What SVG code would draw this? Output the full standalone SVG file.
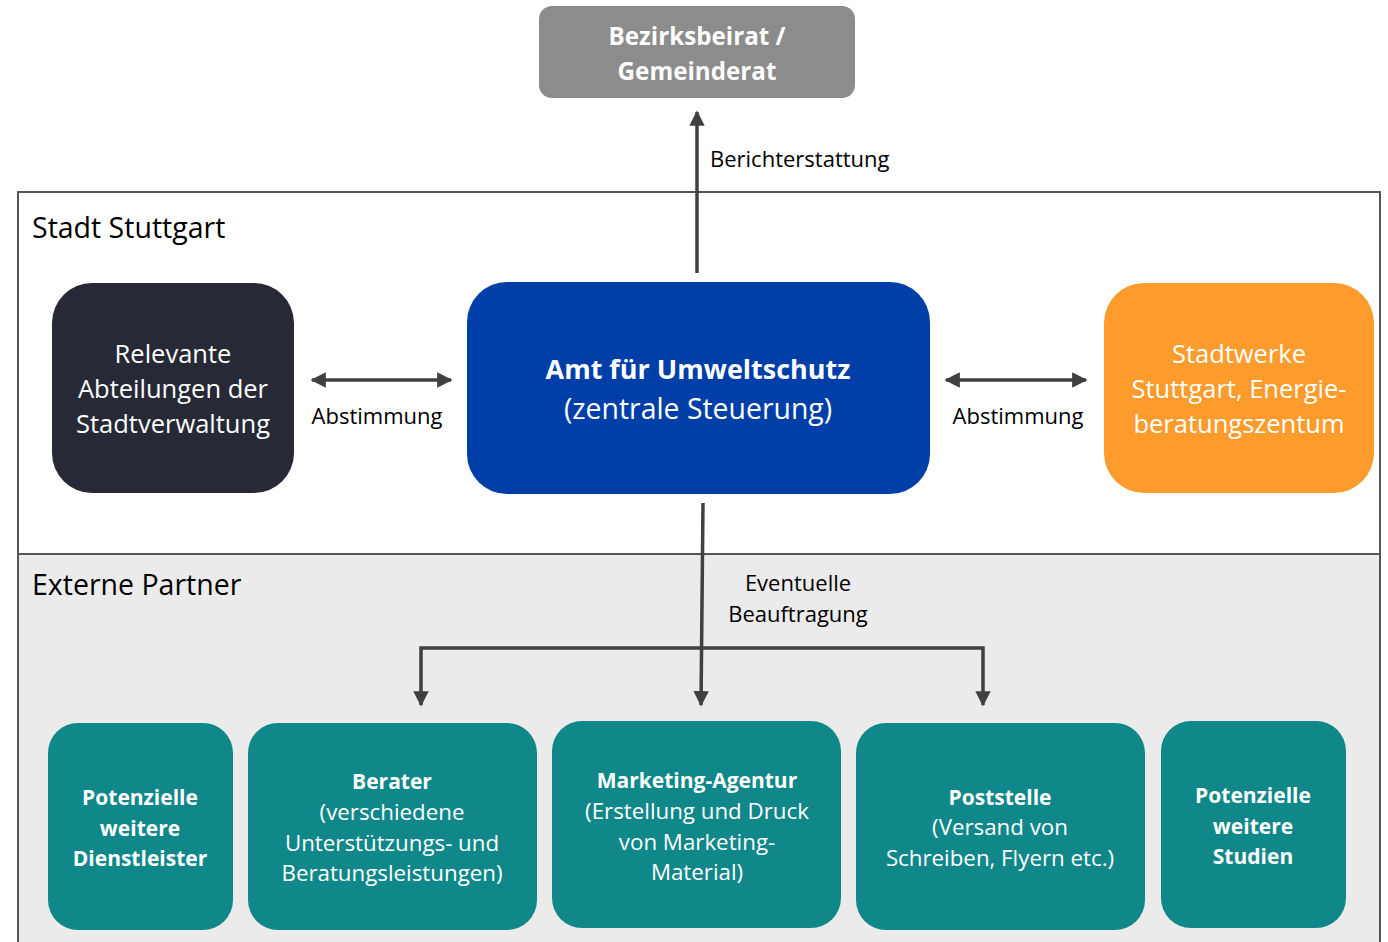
<svg xmlns="http://www.w3.org/2000/svg" width="1388" height="942" viewBox="0 0 1388 942">
<defs>
<style>
text{font-family:"Open Sans","Noto Sans","DejaVu Sans",sans-serif;text-anchor:middle}
.w{fill:#ffffff}
.k{fill:#000000}
.b{font-weight:bold}
.node{font-size:25.5px}
.lab{font-size:22px}
.panel{stroke:#555555;stroke-width:2}
.conn{stroke:#404040;stroke-width:3.5;fill:none}
.teal{fill:#108789}
.tt{font-size:22.3px}
.tb{font-size:21px;font-weight:bold}
.title{font-size:28.5px;text-anchor:start}
</style>
<marker id="ah" viewBox="0 0 10 10" refX="9" refY="5" markerWidth="4.4" markerHeight="4.4" markerUnits="strokeWidth" orient="auto-start-reverse">
<path d="M0,0 L10,5 L0,10 z" fill="#404040"/>
</marker>
</defs>
<rect width="1388" height="942" fill="#ffffff"/>
<g id="panel-stadt">
<rect class="panel" x="18" y="192" width="1362" height="362" fill="#ffffff"/>
<text x="32" y="238" class="k title">Stadt Stuttgart</text>
</g>
<g id="panel-extern">
<rect class="panel" x="18" y="554" width="1362" height="400" fill="#ebebeb"/>
<text x="32" y="595" class="k title">Externe Partner</text>
</g>
<g id="connectors">
<line class="conn" x1="697" y1="273" x2="697" y2="112" marker-end="url(#ah)"/>
<line class="conn" x1="312" y1="380" x2="451" y2="380" marker-start="url(#ah)" marker-end="url(#ah)"/>
<line class="conn" x1="946" y1="380" x2="1086" y2="380" marker-start="url(#ah)" marker-end="url(#ah)"/>
<line class="conn" x1="703" y1="503" x2="701" y2="705" marker-end="url(#ah)"/>
<polyline class="conn" points="421,705 421,648 983,648 983,705" marker-start="url(#ah)" marker-end="url(#ah)"/>
<text x="710" y="167" class="lab k" style="text-anchor:start">Berichterstattung</text>
<text x="377" y="424" class="lab k">Abstimmung</text>
<text x="1018" y="424" class="lab k">Abstimmung</text>
<text x="798" y="591" class="lab k">Eventuelle</text>
<text x="798" y="622" class="lab k">Beauftragung</text>
</g>
<g id="node-bezirksbeirat">
<rect x="539" y="6" width="316" height="92" rx="13" fill="#8c8c8c"/>
<text x="697" y="45" class="w b" style="font-size:24.2px">Bezirksbeirat /</text>
<text x="697" y="80" class="w b" style="font-size:24.2px">Gemeinderat</text>
</g>
<g id="node-abteilungen">
<rect x="52" y="283" width="242" height="210" rx="40" fill="#272a36"/>
<text x="173" y="363" class="w node">Relevante</text>
<text x="173" y="398" class="w node">Abteilungen der</text>
<text x="173" y="433" class="w node">Stadtverwaltung</text>
</g>
<g id="node-amt">
<rect x="467" y="282" width="463" height="212" rx="40" fill="#003fa7"/>
<text x="698" y="379" class="w b" style="font-size:27px">Amt für Umweltschutz</text>
<text x="698" y="419" class="w" style="font-size:28.4px">(zentrale Steuerung)</text>
</g>
<g id="node-stadtwerke">
<rect x="1104" y="283" width="270" height="210" rx="40" fill="#fd9b2c"/>
<text x="1239" y="363" class="w node">Stadtwerke</text>
<text x="1239" y="398" class="w node">Stuttgart, Energie-</text>
<text x="1239" y="433" class="w node">beratungszentum</text>
</g>
<g id="node-dienstleister">
<rect class="teal" x="48" y="723" width="185" height="207" rx="30"/>
<text x="140" y="805" class="w tb">Potenzielle</text>
<text x="140" y="836" class="w tb">weitere</text>
<text x="140" y="866" class="w tb">Dienstleister</text>
</g>
<g id="node-berater">
<rect class="teal" x="248" y="723" width="289" height="207" rx="30"/>
<text x="392" y="789" class="w tb">Berater</text>
<text x="392" y="820" class="w tt">(verschiedene</text>
<text x="392" y="851" class="w tt">Unterstützungs- und</text>
<text x="392" y="881" class="w tt">Beratungsleistungen)</text>
</g>
<g id="node-marketing">
<rect class="teal" x="552" y="721" width="289" height="207" rx="30"/>
<text x="697" y="788" class="w tb">Marketing-Agentur</text>
<text x="697" y="819" class="w tt">(Erstellung und Druck</text>
<text x="697" y="850" class="w tt">von Marketing-</text>
<text x="697" y="880" class="w tt">Material)</text>
</g>
<g id="node-poststelle">
<rect class="teal" x="856" y="723" width="289" height="207" rx="30"/>
<text x="1000" y="805" class="w tb">Poststelle</text>
<text x="1000" y="835" class="w tt">(Versand von</text>
<text x="1000" y="866" class="w tt">Schreiben, Flyern etc.)</text>
</g>
<g id="node-studien">
<rect class="teal" x="1161" y="721" width="185" height="207" rx="30"/>
<text x="1253" y="803" class="w tb">Potenzielle</text>
<text x="1253" y="834" class="w tb">weitere</text>
<text x="1253" y="864" class="w tb">Studien</text>
</g>
</svg>
